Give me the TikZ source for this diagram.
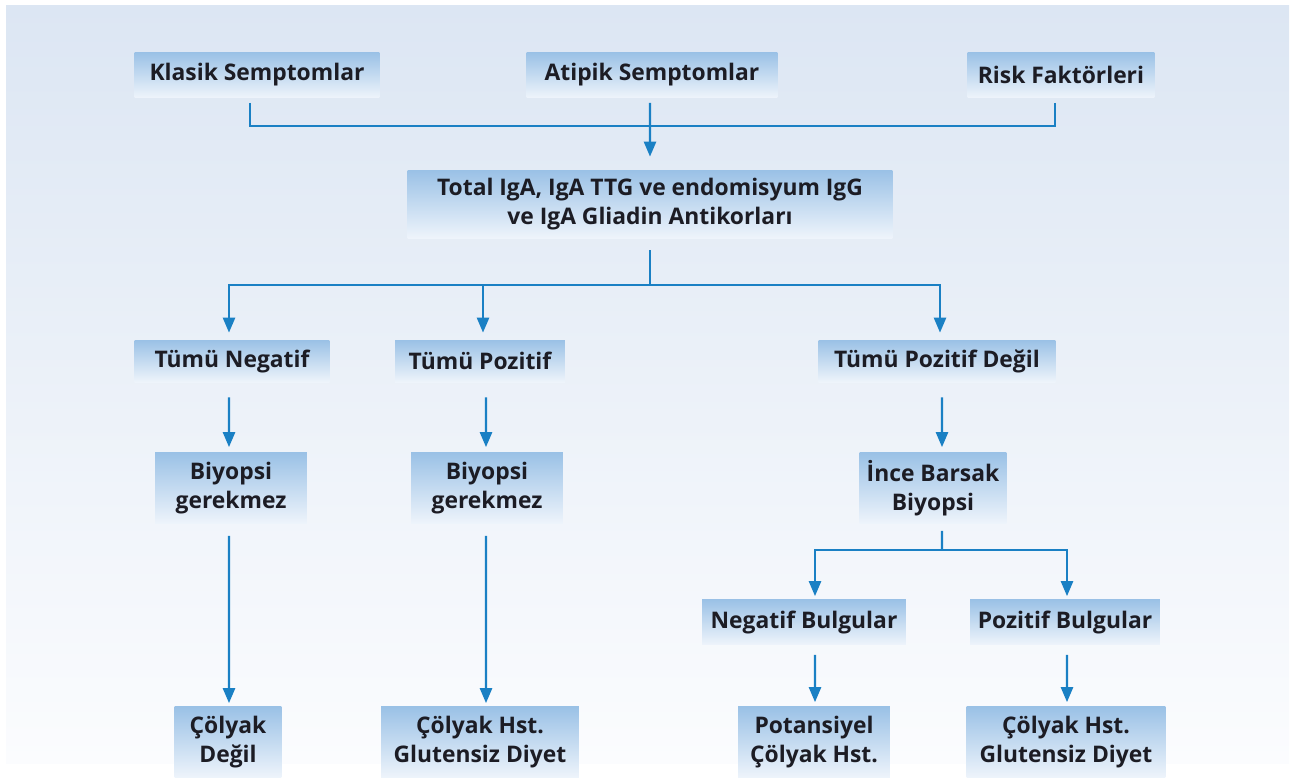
\documentclass[tikz,border=0pt]{standalone}
\usepackage{fontspec}
\setmainfont{Open Sans}
\usepackage{xcolor}
\usetikzlibrary{arrows.meta, positioning, calc}
\definecolor{CDLine}{RGB}{26, 128, 196}
\definecolor{CDBoxTop}{RGB}{154, 193, 230}
\definecolor{CDBoxBottom}{RGB}{238, 244, 251}
\definecolor{CDBackTop}{RGB}{220, 230, 243}
\definecolor{CDBackBottom}{RGB}{251, 252, 254}
\definecolor{CDText}{RGB}{28, 28, 36}

\tikzset{
  flowbox/.style={
    top color=CDBoxTop, bottom color=CDBoxBottom, draw=none,
    minimum height=0.9cm, inner sep=1mm, align=center,
    font=\fontsize{13}{16.5}\selectfont\bfseries, text=CDText
  },
  tallbox/.style={flowbox, minimum height=1.42cm},
  link/.style={draw=CDLine, line width=1.4pt},
  arr/.style={link, -{Triangle[width=0.24cm, length=0.3cm]}}
}

\begin{document}
\begin{tikzpicture}[x=0.02cm, y=-0.02cm]
  \useasboundingbox (0,0) rectangle (1291,778);
  \shade[top color=CDBackTop, bottom color=CDBackBottom] (6,5) rectangle (1289,763);

  % top row
  \node[flowbox, minimum width=4.9cm]  (klasik) at (257,75)  {Klasik Semptomlar};
  \node[flowbox, minimum width=5.02cm] (atipik) at (652,75)  {Atipik Semptomlar};
  \node[flowbox, minimum width=3.74cm] (risk)   at (1061,75) {Risk Faktörleri};

  \node[flowbox, minimum width=9.7cm, minimum height=1.36cm] (antikor) at (650,204)
    {Total IgA, IgA TTG ve endomisyum IgG\\ve IgA Gliadin Antikorları};

  % second row
  \node[flowbox, minimum width=3.9cm, minimum height=0.84cm]  (tneg)  at (232,361) {Tümü Negatif};
  \node[flowbox, minimum width=3.4cm, minimum height=0.84cm]  (tpoz)  at (480,361) {Tümü Pozitif};
  \node[flowbox, minimum width=4.74cm, minimum height=0.84cm] (tdegil) at (937,361) {Tümü Pozitif Değil};

  \node[tallbox, minimum width=3.04cm] (biyo1) at (231,488) {Biyopsi\\gerekmez};
  \node[tallbox, minimum width=3.04cm] (biyo2) at (487,488) {Biyopsi\\gerekmez};
  \node[tallbox, minimum width=2.94cm] (ince)  at (933,488) {İnce Barsak\\Biyopsi};

  \node[flowbox, minimum width=4.08cm] (negb) at (804,622)  {Negatif Bulgular};
  \node[flowbox, minimum width=3.8cm]  (pozb) at (1065,622) {Pozitif Bulgular};

  % bottom row
  \node[tallbox, minimum width=2.14cm] (degil)  at (228,742)  {Çölyak\\Değil};
  \node[tallbox, minimum width=3.96cm] (hst1)   at (480,742)  {Çölyak Hst.\\Glutensiz Diyet};
  \node[tallbox, minimum width=3.04cm] (potans) at (814,742)  {Potansiyel\\Çölyak Hst.};
  \node[tallbox, minimum width=3.98cm] (hst2)   at (1066,742) {Çölyak Hst.\\Glutensiz Diyet};

  % connectors
  \coordinate (jtop) at (650,126);
  \coordinate (jmid) at (650,285);
  \coordinate (jince) at (942,550);

  \draw[link, shorten <=0.1cm] ([xshift=-0.14cm]klasik.south) |- (jtop);
  \draw[link, shorten <=0.1cm] ([xshift=-0.12cm]risk.south) |- (jtop);
  \draw[arr, shorten <=0.1cm, shorten >=0.26cm] ([xshift=-0.04cm]atipik.south) -- (antikor.north);

  \draw[link, shorten <=0.24cm] (antikor.south) -- (jmid);
  \draw[arr, shorten >=0.14cm] (jmid) -| ([xshift=-0.06cm]tneg.north);
  \draw[arr, shorten >=0.14cm] (jmid) -| ([xshift=0.06cm]tpoz.north);
  \draw[arr, shorten >=0.14cm] (jmid) -| ([xshift=0.06cm]tdegil.north);

  \draw[arr, shorten <=0.3cm, shorten >=0.1cm] ([xshift=-0.06cm]tneg.south) -- ([xshift=-0.04cm]biyo1.north);
  \draw[arr, shorten <=0.3cm, shorten >=0.1cm] ([xshift=0.12cm]tpoz.south) -- ([xshift=-0.02cm]biyo2.north);
  \draw[arr, shorten <=0.3cm, shorten >=0.1cm] ([xshift=0.1cm]tdegil.south) -- ([xshift=0.18cm]ince.north);

  \draw[arr, shorten <=0.24cm, shorten >=0.06cm] ([xshift=-0.04cm]biyo1.south) -- ([xshift=0.02cm]degil.north);
  \draw[arr, shorten <=0.24cm, shorten >=0.06cm] ([xshift=-0.02cm]biyo2.south) -- ([xshift=0.12cm]hst1.north);

  \draw[link, shorten <=0.14cm] ([xshift=0.18cm]ince.south) -- (jince);
  \draw[arr, shorten >=0.06cm] (jince) -| ([xshift=0.22cm]negb.north);
  \draw[arr, shorten >=0.06cm] (jince) -| ([xshift=0.04cm]pozb.north);

  \draw[arr, shorten <=0.2cm, shorten >=0.08cm] ([xshift=0.22cm]negb.south) -- ([xshift=0.02cm]potans.north);
  \draw[arr, shorten <=0.2cm, shorten >=0.08cm] ([xshift=0.04cm]pozb.south) -- ([xshift=0.02cm]hst2.north);
\end{tikzpicture}
\end{document}
